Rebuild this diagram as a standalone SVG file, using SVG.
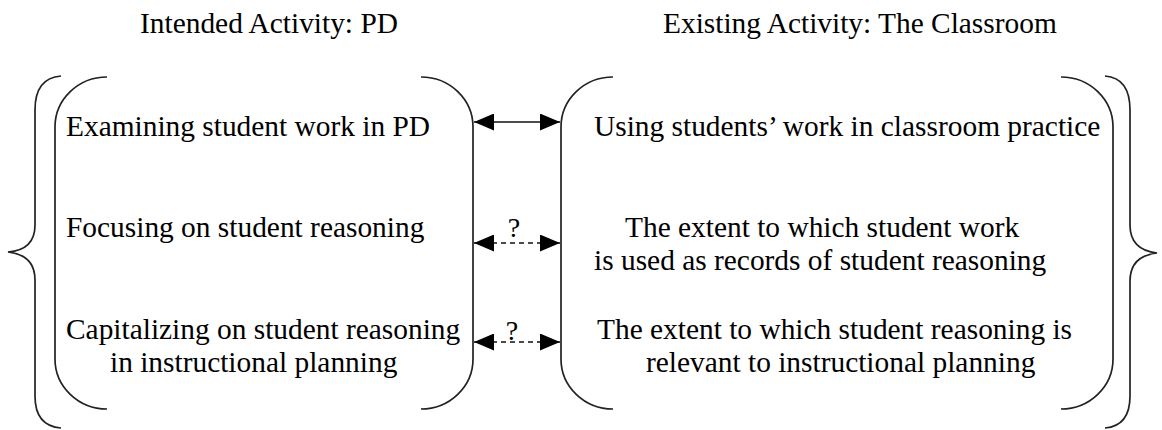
<svg xmlns="http://www.w3.org/2000/svg" width="1162" height="430" viewBox="0 0 1162 430">
<style>
text{font-family:"Liberation Serif","Times New Roman",serif;font-size:29.4px;fill:#000}
.q{font-size:28px}
.ln{fill:none;stroke:#222;stroke-width:1.7}
.ar{fill:none;stroke:#111;stroke-width:1.4}
.dash{stroke-dasharray:5,4}
</style>
<defs>
<marker id="ah" markerWidth="20" markerHeight="17" refX="20" refY="8.5" orient="auto-start-reverse" markerUnits="userSpaceOnUse">
<path d="M0,0 L20,8.5 L0,17 Z" fill="#000"/>
</marker>
</defs>
<rect width="1162" height="430" fill="#fff"/>
<g id="title-left"><text x="140" y="33">Intended Activity: PD</text></g>
<g id="title-right"><text x="663" y="33">Existing Activity: The Classroom</text></g>
<g id="brace-left"><path class="ln" d="M61,76 Q35,78 35,110 L35,225 Q35,250 8,252 Q35,255 35,280 L35,396 Q35,426 61,428"/></g>
<g id="brace-right"><path class="ln" d="M1105,76 Q1130,78 1130,110 L1130,225 Q1130,250 1157,253 Q1130,256 1130,281 L1130,396 Q1130,426 1105,428"/></g>
<g id="box-pd">
<path class="ln" d="M107,77 A52,50 0 0 0 55,127 L55,359 A52,50 0 0 0 107,409"/>
<path class="ln" d="M421,77 A52,50 0 0 1 473,127 L473,359 A52,50 0 0 1 421,409"/>
<text x="66" y="136">Examining student work in PD</text>
<text x="66" y="237">Focusing on student reasoning</text>
<text x="66" y="339">Capitalizing on student reasoning</text>
<text x="110" y="372">in instructional planning</text>
</g>
<g id="box-classroom">
<path class="ln" d="M613,77 A52,50 0 0 0 561,127 L561,359 A52,50 0 0 0 613,409"/>
<path class="ln" d="M1061,77 A52,50 0 0 1 1113,127 L1113,359 A52,50 0 0 1 1061,409"/>
<text x="594" y="136">Using students’ work in classroom practice</text>
<text x="625" y="237">The extent to which student work</text>
<text x="594" y="270">is used as records of student reasoning</text>
<text x="597" y="339">The extent to which student reasoning is</text>
<text x="646" y="372">relevant to instructional planning</text>
</g>
<g id="connectors">
<line class="ar" x1="474" y1="122" x2="560" y2="122" marker-start="url(#ah)" marker-end="url(#ah)"/>
<line class="ar dash" x1="474" y1="243" x2="560" y2="243" marker-start="url(#ah)" marker-end="url(#ah)"/>
<text class="q" x="514" y="237" text-anchor="middle">?</text>
<line class="ar dash" x1="474" y1="342" x2="560" y2="342" marker-start="url(#ah)" marker-end="url(#ah)"/>
<text class="q" x="512" y="340" text-anchor="middle">?</text>
</g>
</svg>
